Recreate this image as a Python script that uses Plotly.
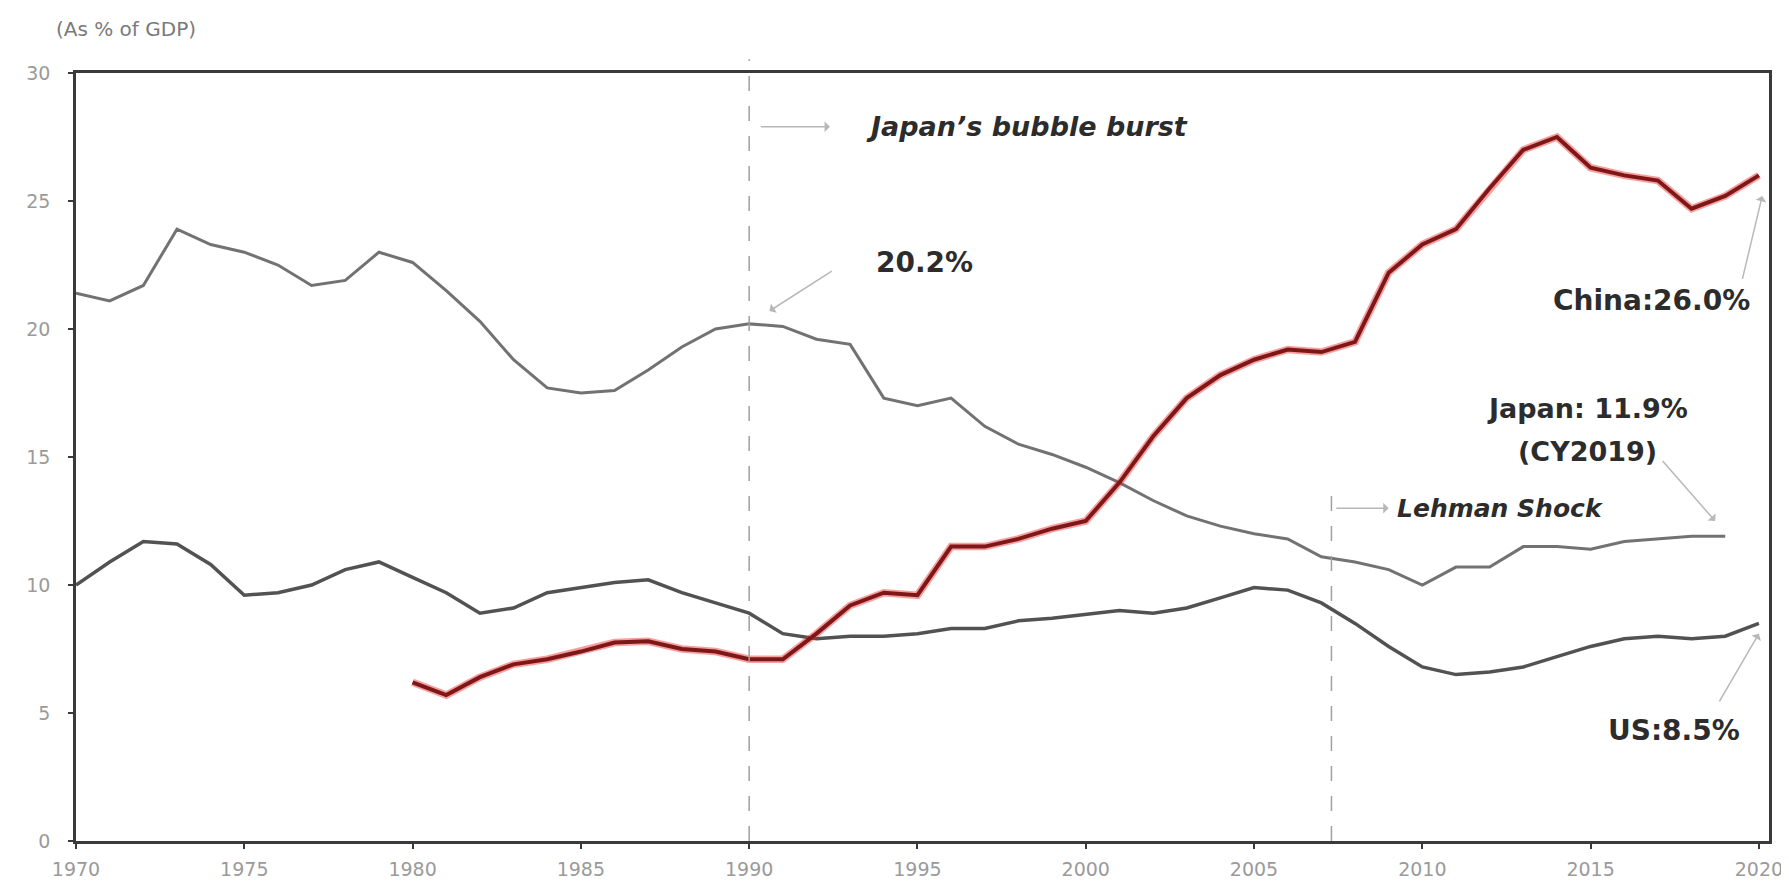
import plotly.graph_objects as go

years_japan = list(range(1970, 2020))
japan = [21.4, 21.1, 21.7, 23.9, 23.3, 23.0, 22.5, 21.7, 21.9, 23.0,
         22.6, 21.5, 20.3, 18.8, 17.7, 17.5, 17.6, 18.4, 19.3, 20.0,
         20.2, 20.1, 19.6, 19.4, 17.3, 17.0, 17.3, 16.2, 15.5, 15.1,
         14.6, 14.0, 13.3, 12.7, 12.3, 12.0, 11.8, 11.1, 10.9, 10.6,
         10.0, 10.7, 10.7, 11.5, 11.5, 11.4, 11.7, 11.8, 11.9, 11.9]

years_us = list(range(1970, 2021))
us = [10.0, 10.9, 11.7, 11.6, 10.8, 9.6, 9.7, 10.0, 10.6, 10.9,
      10.3, 9.7, 8.9, 9.1, 9.7, 9.9, 10.1, 10.2, 9.7, 9.3,
      8.9, 8.1, 7.9, 8.0, 8.0, 8.1, 8.3, 8.3, 8.6, 8.7,
      8.85, 9.0, 8.9, 9.1, 9.5, 9.9, 9.8, 9.3, 8.5, 7.6,
      6.8, 6.5, 6.6, 6.8, 7.2, 7.6, 7.9, 8.0, 7.9, 8.0, 8.5]

years_china = list(range(1980, 2021))
china = [6.2, 5.7, 6.4, 6.9, 7.1, 7.4, 7.75, 7.8, 7.5, 7.4,
         7.1, 7.1, 8.1, 9.2, 9.7, 9.6, 11.5, 11.5, 11.8, 12.2,
         12.5, 14.0, 15.8, 17.3, 18.2, 18.8, 19.2, 19.1, 19.5, 22.2,
         23.3, 23.9, 25.5, 27.0, 27.5, 26.3, 26.0, 25.8, 24.7, 25.2, 26.0]

y_ticks = [0, 5, 10, 15, 20, 25, 30]
x_ticks = [1970, 1975, 1980, 1985, 1990, 1995, 2000, 2005, 2010, 2015, 2020]

FONT = "DejaVu Sans, Liberation Sans, Arial, sans-serif"

fig = go.Figure()
fig.add_trace(go.Scatter(x=years_japan, y=japan, mode="lines",
                         line=dict(color="#727272", width=3), hoverinfo="skip"))
fig.add_trace(go.Scatter(x=years_us, y=us, mode="lines",
                         line=dict(color="#525252", width=3.5), hoverinfo="skip"))
fig.add_trace(go.Scatter(x=years_china, y=china, mode="lines",
                         line=dict(color="rgba(240,40,40,0.45)", width=7.5), hoverinfo="skip"))
fig.add_trace(go.Scatter(x=years_china, y=china, mode="lines",
                         line=dict(color="#7e1818", width=4), hoverinfo="skip"))

dash_col = "#a0a0a0"
fig.add_shape(type="line", xref="x", yref="paper", x0=1990, x1=1990, y0=0, y1=1.018,
              line=dict(color=dash_col, width=1.5, dash="longdash"))
fig.add_shape(type="line", xref="x", yref="y", x0=2007.3, x1=2007.3, y0=0, y1=13.8,
              line=dict(color=dash_col, width=1.5, dash="longdash"))

arrow_col = "#b8b8b8"


def arrow(x0, y0, x1, y1):
    fig.add_annotation(x=x1, y=y1, ax=x0, ay=y0, xref="x", yref="y", axref="x", ayref="y",
                       text="", showarrow=True, arrowhead=1, arrowsize=1.2,
                       arrowwidth=1.5, arrowcolor=arrow_col)


def label(x, y, text, anchor="left", italic=False, size=28):
    t = "<b><i>%s</i></b>" % text if italic else "<b>%s</b>" % text
    fig.add_annotation(x=x, y=y, xref="x", yref="y", text=t, showarrow=False,
                       xanchor=anchor, yanchor="middle",
                       font=dict(family=FONT, size=size, color="#2c2c2c"))


arrow(1990.3, 27.9, 1992.4, 27.9)
label(1993.4, 27.9, "Japan’s bubble burst", italic=True, size=27)
arrow(1992.5, 22.3, 1990.6, 20.7)
label(1993.7, 22.6, "20.2%")
arrow(2019.5, 21.9, 2020.1, 25.2)
label(2019.8, 21.1, "China:26.0%", anchor="right")
label(2014.9, 16.9, "Japan: 11.9%", anchor="center", size=27)
label(2014.9, 15.2, "(CY2019)", anchor="center", size=27)
arrow(2017.1, 14.9, 2018.7, 12.5)
arrow(2007.4, 13.0, 2009.0, 13.0)
label(2009.2, 13.0, "Lehman Shock", italic=True, size=25)
arrow(2018.8, 5.4, 2020.0, 8.1)
label(2019.5, 4.3, "US:8.5%", anchor="right")

ML, MR, MT, MB = 68, 28, 65, 42
plot_w = 1789 - ML - MR
plot_h = 884 - MT - MB
fig.add_annotation(x=(46 - ML) / plot_w, y=1 + (MT - 20) / plot_h, xref="paper", yref="paper",
                   text="(As % of GDP)", showarrow=False, xanchor="left", yanchor="middle",
                   font=dict(family=FONT, size=20, color="#7a7a7a"))

axis_line = "#3a3a3a"
tick_font = dict(family=FONT, size=19, color="#9a9a9a")
fig.update_layout(
    width=1789, height=884,
    margin=dict(l=ML, r=MR, t=MT, b=MB),
    paper_bgcolor="white", plot_bgcolor="white",
    showlegend=False,
    xaxis=dict(range=[1970, 2020.3], tickvals=x_ticks, ticktext=[str(v) for v in x_ticks],
               showgrid=False, zeroline=False, showline=True, linecolor=axis_line, linewidth=2.5,
               mirror=True, ticks="outside", ticklen=5, tickwidth=2, tickcolor=axis_line,
               ticklabelstandoff=4, ticklabeloverflow="allow",
               tickfont=tick_font),
    yaxis=dict(range=[0, 30], tickvals=y_ticks, ticktext=[str(v) for v in y_ticks],
               showgrid=False, zeroline=False, showline=True, linecolor=axis_line, linewidth=2.5,
               mirror=True, ticks="outside", ticklen=5, tickwidth=2, tickcolor=axis_line,
               ticklabelstandoff=14,
               tickfont=tick_font),
)

fig.write_html("out.html")
